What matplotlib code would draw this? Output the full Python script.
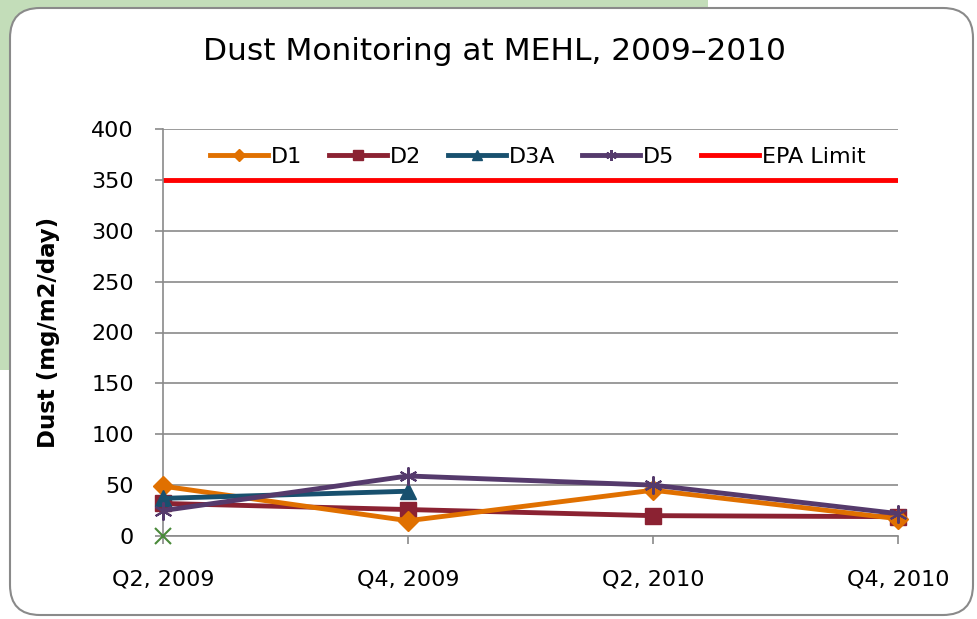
import matplotlib.pyplot as plt
from matplotlib.patches import Rectangle, FancyBboxPatch

quarters = ["Q2, 2009", "Q4, 2009", "Q2, 2010", "Q4, 2010"]
d1 = [49, 15, 45, 17]
d2 = [32, 26, 20, 19]
d3a = [37, 44, None, None]
d5 = [25, 59, 50, 22]
d6 = [0, None, None, None]
epa_limit = [350, 350, 350, 350]

plt.rcParams['font.family'] = ['DejaVu Sans']

fig = plt.figure(figsize=(9.78, 6.19), dpi=100)
W, H = 978, 619

# green slide background + rounded white panel
fig.patches.append(Rectangle((0, 1 - 370 / H), 708 / W, 370 / H, transform=fig.transFigure,
                             facecolor='#c3ddb9', edgecolor='none', zorder=-3))
fig.patches.append(FancyBboxPatch((10 / W, 4 / H), 963 / W, 607 / H,
                                  boxstyle="round,pad=0,rounding_size=%f" % (30 / W),
                                  mutation_aspect=W / H,
                                  transform=fig.transFigure, facecolor='white',
                                  edgecolor='#8a8a8a', linewidth=1.5, zorder=-2))

ax = fig.add_axes([163 / W, 1 - 536 / H, (898 - 163) / W, (536 - 129) / H])
ax.set_facecolor('none')
x = list(range(len(quarters)))

def clean(vals):
    return [float('nan') if v is None else v for v in vals]

lw = 3.5
ax.plot(x, clean(d1), color='#e07000', lw=lw, marker='D', ms=10, label='D1', zorder=4,
        clip_on=False)
ax.plot(x, clean(d2), color='#8b2232', lw=lw, marker='s', ms=11, label='D2', zorder=3,
        clip_on=False)
ax.plot(x, clean(d3a), color='#18506e', lw=lw, marker='^', ms=11, label='D3A', zorder=5,
        clip_on=False)
ax.plot(x, clean(d5), color='#553a6c', lw=lw, marker=(6, 2, 0), ms=13, mew=1.5,
        label='D5', zorder=6, clip_on=False)
ax.plot(x, clean(d6), color='#4a8a3a', lw=lw, marker='x', ms=11, mew=1.5,
        linestyle='none', label='_nolegend_', zorder=6, clip_on=False)
ax.plot(x, epa_limit, color='#ff0000', lw=lw, label='EPA Limit', zorder=2)

ax.set_xlim(0, 3)
ax.set_ylim(0, 400)
ax.set_yticks(range(0, 401, 50))
ax.set_xticks(x)
ax.set_xticklabels(quarters)
ax.yaxis.grid(True, color='#8a8a8a', lw=1.2)
ax.set_axisbelow(True)
for s in ['top', 'right']:
    ax.spines[s].set_visible(False)
for s in ['left', 'bottom']:
    ax.spines[s].set_color('#8a8a8a')
    ax.spines[s].set_linewidth(1.2)
ax.tick_params(axis='both', direction='out', length=6, width=1.2, color='#8a8a8a',
               labelsize=16)
ax.tick_params(axis='y', pad=15)
ax.tick_params(axis='x', pad=18)

ax.set_ylabel('Dust (mg/m2/day)', fontsize=16.5, fontweight='bold')
ax.yaxis.set_label_coords(-0.140, 0.5)

fig.text(495 / W, 1 - 51 / H, 'Dust Monitoring at MEHL, 2009\u20132010',
         ha='center', va='center', fontsize=22.5)

leg = ax.legend(loc='upper center', bbox_to_anchor=(0.51, 1.005), ncol=5, frameon=False,
                fontsize=16, handlelength=2.6, columnspacing=1.2, handletextpad=0.15,
                markerscale=0.6)

fig.savefig('out.png', dpi=100)
